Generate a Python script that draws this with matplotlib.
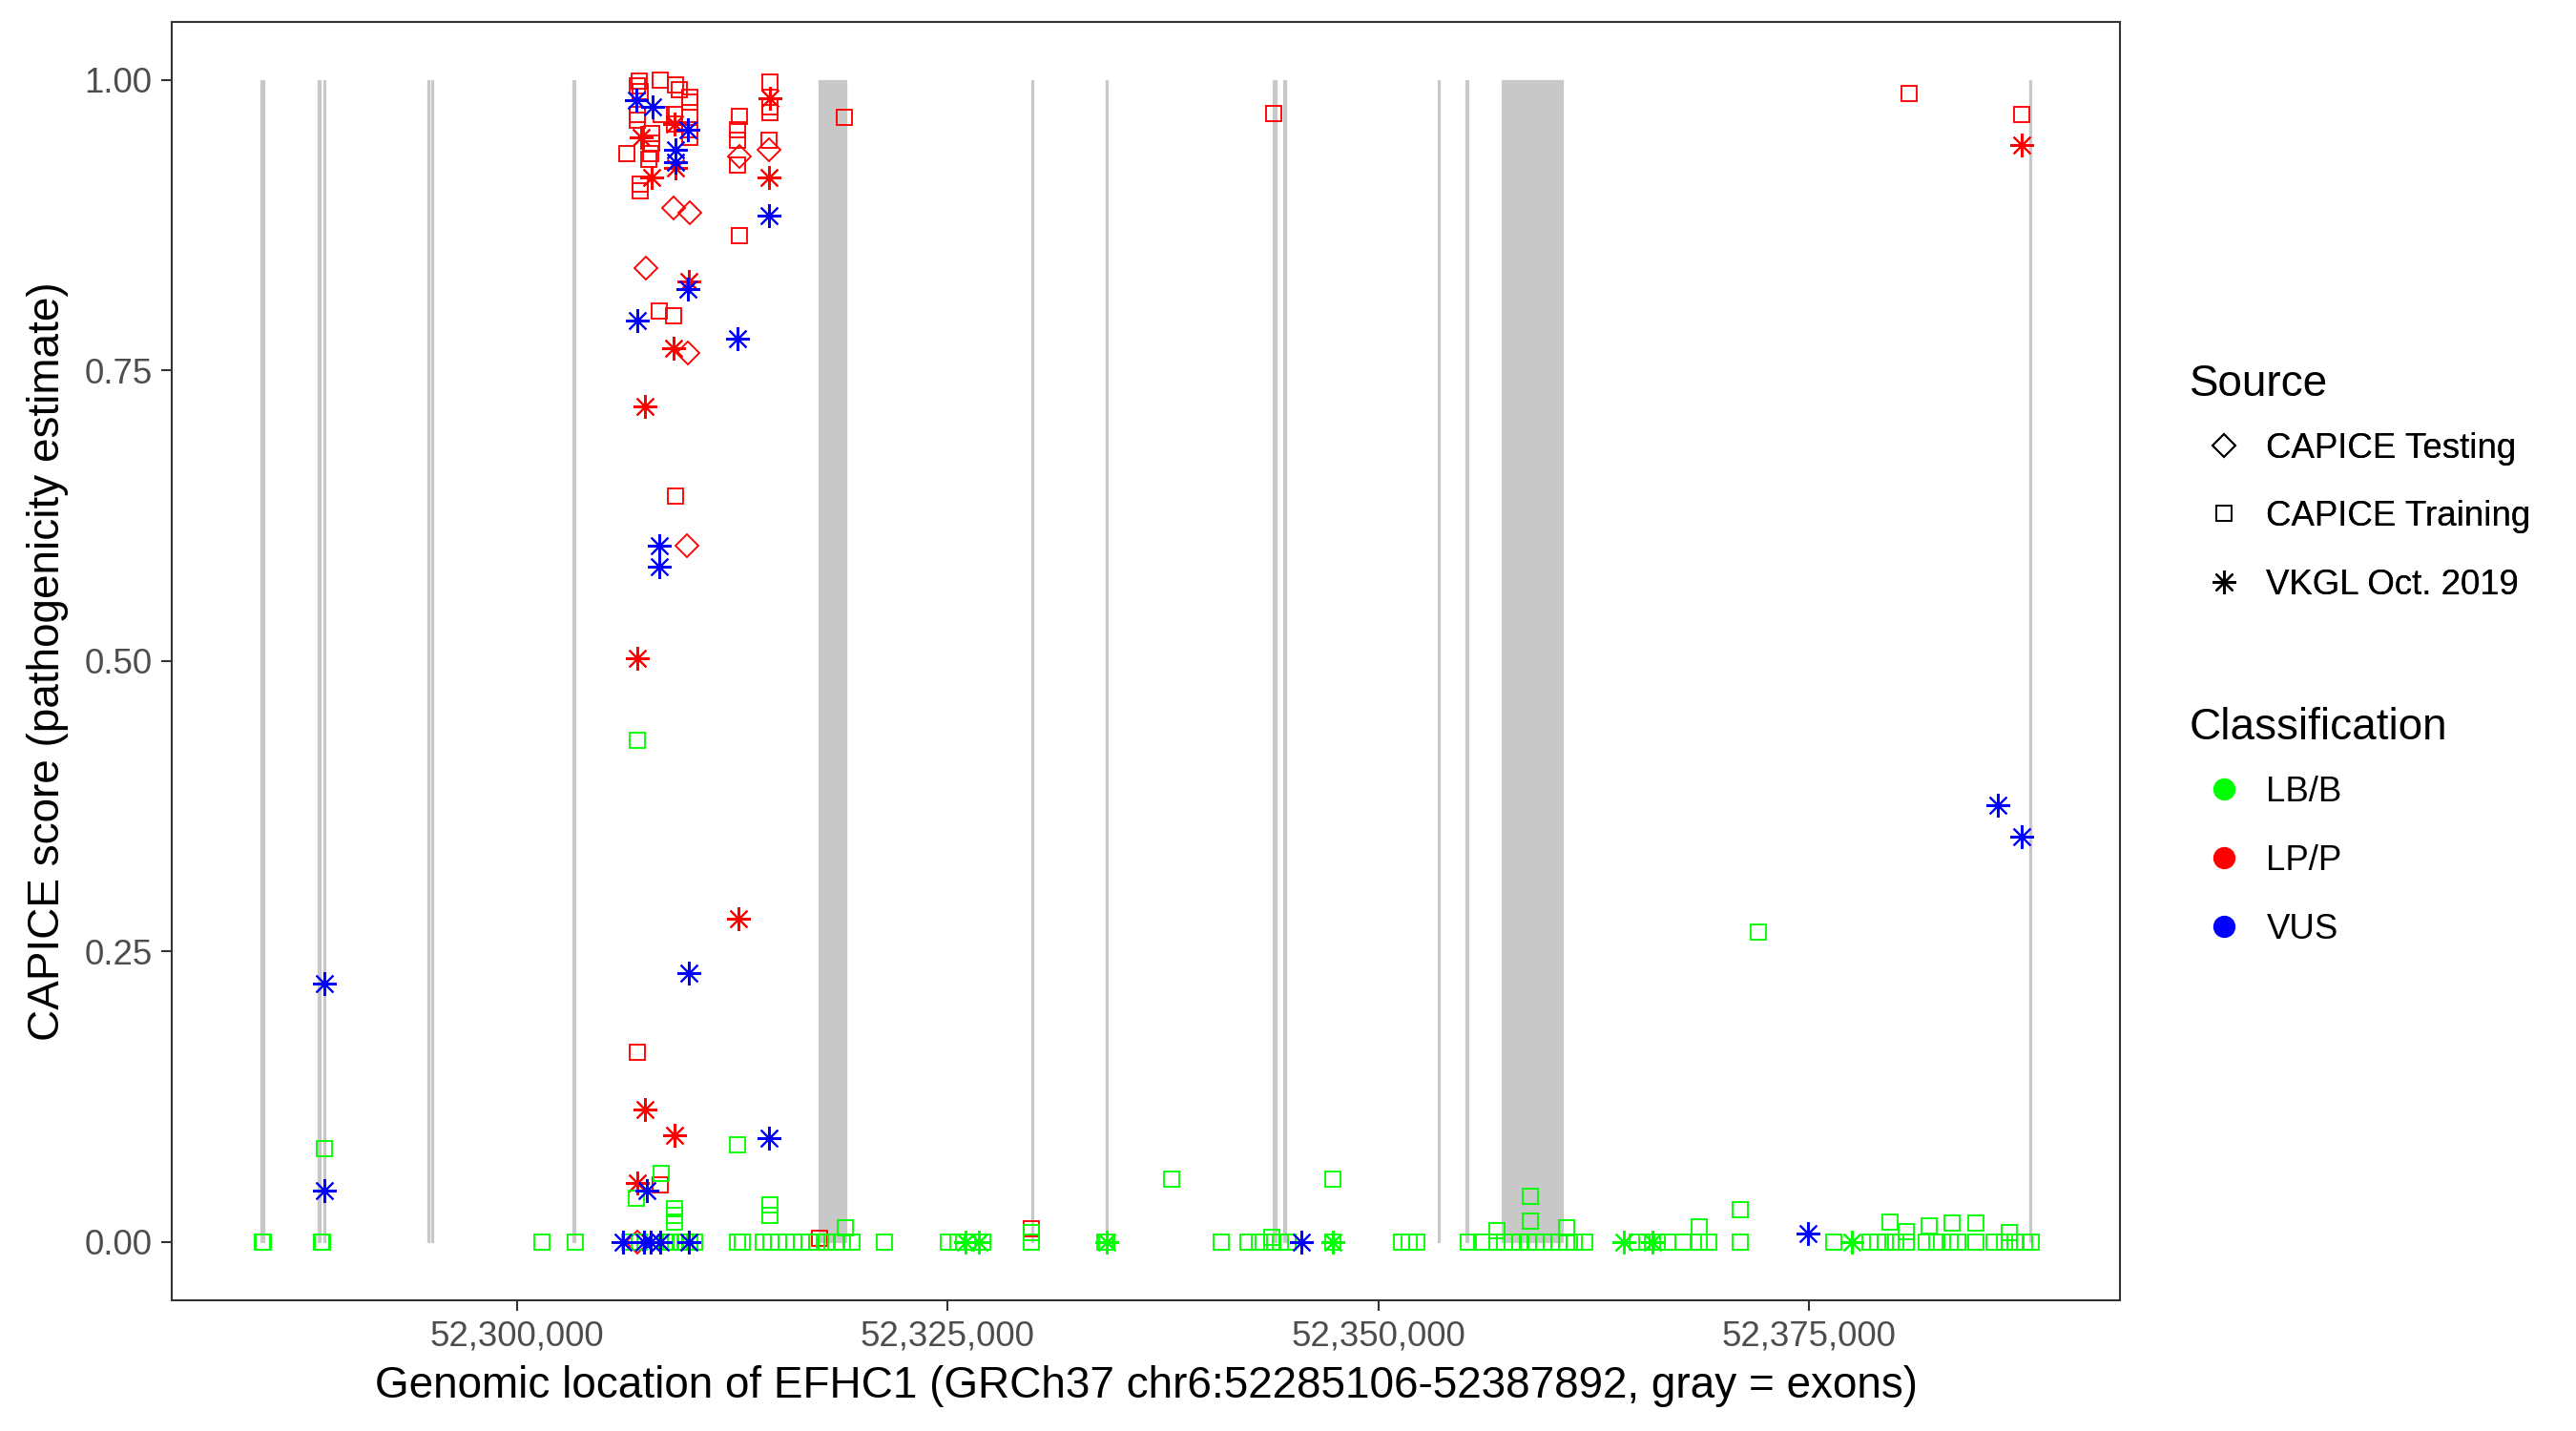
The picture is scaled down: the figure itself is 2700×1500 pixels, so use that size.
import matplotlib
matplotlib.use('Agg')
import matplotlib.pyplot as plt
from matplotlib.lines import Line2D
from matplotlib.ticker import FuncFormatter

plt.rcParams['font.family'] = ['Liberation Sans', 'DejaVu Sans']

# gene + exons (GRCh37 chr6)
gene_start = 52285106
gene_end = 52387892
exon_start = [52285106, 52288460, 52288750, 52294800, 52295020, 52303200, 52317517,
              52329830, 52334180, 52343840, 52344490, 52353430, 52355050, 52357162, 52387750]
exon_end = [52285340, 52288600, 52288890, 52294930, 52295150, 52303360, 52319124,
            52329970, 52334290, 52344060, 52344630, 52353530, 52355190, 52360693, 52387892]

# LB/B, CAPICE training (squares)
lbb_train_pos = [52285230, 52285290, 52288650, 52288700, 52288800, 52301458, 52303364,
                 52307001, 52308387, 52306946, 52309163, 52309163, 52309163, 52312821,
                 52314673, 52314673, 52319068,
                 52306541, 52307095, 52308664, 52308941, 52309218, 52309495, 52309772,
                 52310050, 52310327, 52312821, 52313098,
                 52314301, 52314744, 52315188, 52315631, 52316075, 52316518, 52316962,
                 52317405, 52317959, 52318514, 52318902, 52319456, 52321324,
                 52325038, 52325559, 52326434, 52327050, 52329877, 52329877,
                 52334100, 52334250, 52340874, 52342421, 52343104, 52343780, 52343780,
                 52344305, 52344748, 52337964, 52347326, 52347326,
                 52351317, 52351766, 52352215, 52355219, 52355972, 52356871, 52356871,
                 52357325, 52357774, 52358223, 52358672, 52359126, 52359575, 52360024,
                 52360473, 52360928, 52361377, 52361982, 52358828, 52358828, 52360928,
                 52364986, 52365585, 52366184, 52366788, 52367686, 52368590, 52368590,
                 52369189, 52370996, 52370996, 52376398,
                 52378505, 52378954, 52379403, 52379700, 52380007, 52380606, 52380606,
                 52381809, 52382408, 52381950, 52383162, 52383611, 52383300,
                 52384663, 52384663, 52385711, 52386315, 52386614, 52386914, 52387513,
                 52387880, 52372050]
lbb_train_score = [0, 0, 0, 0, 0.080, 0, 0,
                   0.432, 0.059, 0.038, 0.029, 0.023, 0.017, 0.084,
                   0.032, 0.023, 0.012,
                   0, 0, 0, 0, 0, 0, 0,
                   0, 0, 0, 0,
                   0, 0, 0, 0, 0, 0, 0,
                   0, 0, 0, 0, 0, 0,
                   0, 0, 0, 0, 0.008, 0,
                   0, 0, 0, 0, 0, 0, 0.004,
                   0, 0, 0.054, 0.054, 0,
                   0, 0, 0, 0, 0, 0, 0.010,
                   0, 0, 0, 0, 0, 0, 0,
                   0, 0, 0, 0, 0.039, 0.018, 0.012,
                   0, 0, 0, 0, 0, 0, 0.013,
                   0, 0, 0.028, 0,
                   0, 0, 0, 0.017, 0, 0, 0.009,
                   0, 0, 0.014, 0, 0, 0.016,
                   0, 0.016, 0, 0, 0.008, 0, 0,
                   0, 0.267]

# LB/B, VKGL (asterisks)
lbb_vkgl_pos = [52326008, 52326823, 52334200, 52347326, 52364232, 52365884, 52377452]
lbb_vkgl_score = [0, 0, 0, 0, 0, 0, 0]

# LP/P, CAPICE training
lpp_train_pos = [52307095, 52306990, 52307150, 52308331, 52309218, 52309423, 52310050,
                 52310050, 52307001, 52307001, 52308370, 52309130, 52309130, 52310050,
                 52310050, 52310050, 52307816, 52307816, 52307743, 52307650, 52306358,
                 52307134, 52307134, 52312915, 52312821, 52312821, 52312821,
                 52314673, 52314673, 52314673, 52314634, 52319012, 52312932,
                 52308259, 52309091, 52309185, 52307001, 52308298, 52317533, 52329877,
                 52343900, 52380790, 52387319]
lpp_train_score = [0.999, 0.995, 0.990, 1.000, 0.996, 0.992, 0.985,
                   0.981, 0.970, 0.965, 0.970, 0.970, 0.962, 0.968,
                   0.957, 0.951, 0.954, 0.946, 0.937, 0.932, 0.937,
                   0.910, 0.905, 0.969, 0.957, 0.948, 0.927,
                   0.998, 0.977, 0.972, 0.948, 0.968, 0.866,
                   0.801, 0.797, 0.642, 0.163, 0.049, 0.003, 0.011,
                   0.971, 0.988, 0.970]

# LP/P, VKGL
lpp_vkgl_pos = [52307189, 52309218, 52307834, 52309130, 52314673, 52314634, 52309994,
                52309074, 52307411, 52306968, 52312860, 52307411, 52309130, 52307001,
                52387319]
lpp_vkgl_score = [0.951, 0.924, 0.916, 0.962, 0.984, 0.916, 0.827,
                  0.769, 0.719, 0.502, 0.278, 0.114, 0.092, 0.051,
                  0.944]

# LP/P, CAPICE testing (diamonds)
lpp_test_pos = [52309091, 52310017, 52312915, 52314634, 52307466, 52309922, 52309866, 52307001]
lpp_test_score = [0.890, 0.886, 0.934, 0.940, 0.838, 0.765, 0.599, 0.0]

# VUS, VKGL
vus_vkgl_pos = [52288800, 52288830, 52306946, 52307871, 52309905, 52309218, 52309218,
                52314634, 52309922, 52306968, 52312821, 52308276, 52308259, 52309994,
                52314617, 52307555, 52306169, 52307372, 52307743, 52308298, 52309994,
                52345524, 52374897, 52385955, 52387319]
vus_vkgl_score = [0.222, 0.044, 0.983, 0.977, 0.957, 0.940, 0.929,
                  0.883, 0.820, 0.793, 0.777, 0.599, 0.581, 0.231,
                  0.089, 0.044, 0, 0, 0, 0, 0,
                  0, 0.007, 0.376, 0.349]

GREEN, RED, BLUE = '#00ff00', '#ff0000', '#0000ff'
MARK = {'test': 'D', 'train': 's', 'vkgl': (8, 2, 0)}
SIZE = {'test': 4.2, 'train': 4.05, 'vkgl': 6.0}
EDGE = {'test': 0.45, 'train': 0.45, 'vkgl': 0.5}

fig = plt.figure(figsize=(9, 5), dpi=300)
ax = fig.add_axes([0.0667, 0.0915, 0.7563, 0.8932])

span = gene_end - gene_start
ax.bar(exon_start, [1] * len(exon_start),
       width=[e - s for s, e in zip(exon_start, exon_end)],
       bottom=0, align='edge', color='#c8c8c8', edgecolor='#c8c8c8', linewidth=0.3, zorder=1)


def pts(x, y, src, col):
    ax.plot(x, y, linestyle='none', marker=MARK[src], ms=SIZE[src],
            mfc='none', mec=col, mew=EDGE[src], zorder=3)


pts(lpp_train_pos, lpp_train_score, 'train', RED)
pts(lpp_vkgl_pos, lpp_vkgl_score, 'vkgl', RED)
pts(lpp_test_pos, lpp_test_score, 'test', RED)
pts(lbb_train_pos, lbb_train_score, 'train', GREEN)
pts(lbb_vkgl_pos, lbb_vkgl_score, 'vkgl', GREEN)
pts(vus_vkgl_pos, vus_vkgl_score, 'vkgl', BLUE)

ax.set_xlim(gene_start - 0.05 * span, gene_end + 0.05 * span)
ax.set_ylim(-0.05, 1.05)
ax.set_xticks([52300000, 52325000, 52350000, 52375000])
ax.xaxis.set_major_formatter(FuncFormatter(lambda v, _: f'{v:,.0f}'))
ax.set_yticks([0, 0.25, 0.5, 0.75, 1.0])
ax.yaxis.set_major_formatter(FuncFormatter(lambda v, _: f'{v:.2f}'))
ax.tick_params(length=2.75, width=0.5, color='#333333', labelsize=8.8,
               labelcolor='#4d4d4d', pad=2.2)
for sp in ax.spines.values():
    sp.set_color('#333333')
    sp.set_linewidth(0.5)

ax.set_xlabel('Genomic location of EFHC1 (GRCh37 chr6:52285106-52387892, gray = exons)',
              fontsize=11, labelpad=3)
ax.set_ylabel('CAPICE score (pathogenicity estimate)', fontsize=11, labelpad=4)

# legends: titles as plain text, entries via legend
fig.text(0.85, 0.7235, 'Source', fontsize=11, va='baseline', ha='left')
src_handles = [Line2D([], [], ls='none', marker=MARK[k], ms=SIZE[k], mfc='none',
                      mec='black', mew=EDGE[k]) for k in ['test', 'train', 'vkgl']]
leg1 = fig.legend(src_handles, ['CAPICE Testing', 'CAPICE Training', 'VKGL Oct. 2019'],
                  loc='center left', bbox_to_anchor=(0.8499, 0.6388),
                  frameon=False, fontsize=8.8, labelspacing=1.0, handlelength=2.0,
                  handletextpad=0.2, borderpad=0, borderaxespad=0)
fig.add_artist(leg1)

fig.text(0.85, 0.4832, 'Classification', fontsize=11, va='baseline', ha='left')
cls_handles = [Line2D([], [], ls='none', marker='o', ms=4.6, mfc=c, mec=c)
               for c in [GREEN, RED, BLUE]]
fig.legend(cls_handles, ['LB/B', 'LP/P', 'VUS'], loc='center left',
           bbox_to_anchor=(0.8499, 0.3984), frameon=False, fontsize=8.8,
           labelspacing=1.0, handlelength=2.0, handletextpad=0.2,
           borderpad=0, borderaxespad=0)

fig.savefig('out.png', dpi=300)
